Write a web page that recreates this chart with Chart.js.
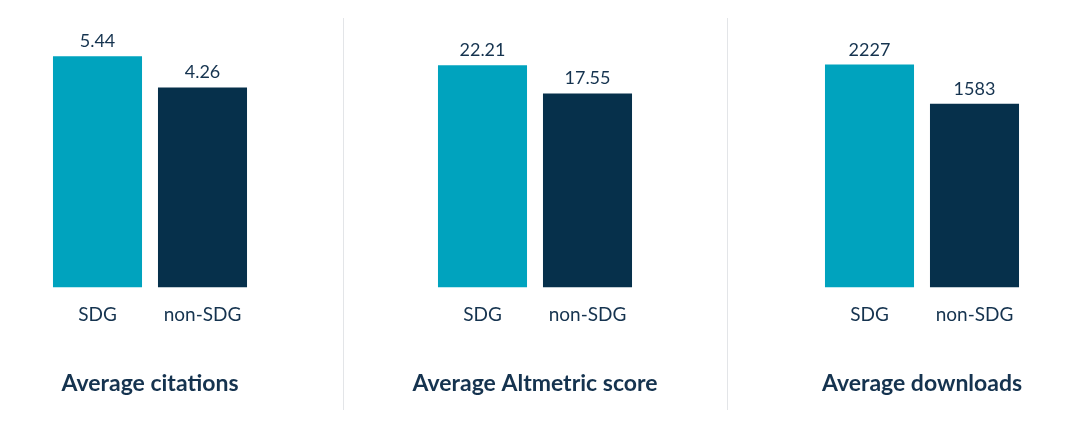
<!DOCTYPE html>
<html>
<head>
<meta charset="utf-8">
<script src="https://cdn.jsdelivr.net/npm/chart.js@4.4.1/dist/chart.umd.min.js"></script>
<style>
  html, body { margin: 0; padding: 0; background: #fff; }
  #wrap { position: relative; width: 1080px; height: 445px; overflow: hidden; }
  .panel { position: absolute; top: 0; width: 300px; height: 420px; }
  .divider { position: absolute; top: 18px; width: 1px; height: 392px; background: #e3e5e8; }
</style>
</head>
<body>
<div id="wrap">
  <div class="panel" style="left:0px"><canvas id="c1"></canvas></div>
  <div class="divider" style="left:343px"></div>
  <div class="panel" style="left:385px"><canvas id="c2"></canvas></div>
  <div class="divider" style="left:727px"></div>
  <div class="panel" style="left:772px"><canvas id="c3"></canvas></div>
</div>
<script>
const groups = ['SDG', 'non-SDG'];
const titles = ['Average citations', 'Average Altmetric score', 'Average downloads'];
const citations = [5.44, 4.26];
const altmetric = [22.21, 17.55];
const downloads = [2227, 1583];
const valueText = [['5.44', '4.26'], ['22.21', '17.55'], ['2227', '1583']];

const colors = ['#00a3be', '#06304b'];
const ink = '#15334f';
const FONT = 'Lato, "Open Sans", sans-serif';

// axis ranges per panel (the original bars do not start at zero)
const ranges = [
  { min: -3.31, max: 6.81 },
  { min: -14.59, max: 29.7 },
  { min: -1432, max: 2958 }
];

const valueLabels = {
  id: 'valueLabels',
  afterDatasetsDraw(chart, args, opts) {
    const ctx = chart.ctx;
    const meta = chart.getDatasetMeta(0);
    ctx.save();
    ctx.font = '18px ' + FONT;
    ctx.fillStyle = ink;
    ctx.textAlign = 'center';
    ctx.textBaseline = 'alphabetic';
    meta.data.forEach((bar, i) => {
      ctx.fillText(opts.texts[i], bar.x, bar.y - 9);
    });
    ctx.restore();
  }
};

// invisible side axes that just reserve 45px each side, so the title keeps full width
function sideAxis(pos, range) {
  return {
    position: pos,
    min: range.min,
    max: range.max,
    grid: { display: false, drawTicks: false },
    border: { display: false },
    ticks: { display: false },
    afterFit(scale) { scale.width = 45; }
  };
}

function makeChart(id, values, title, range, texts) {
  return new Chart(document.getElementById(id), {
    type: 'bar',
    data: {
      labels: groups,
      datasets: [{
        data: values,
        base: range.min,
        backgroundColor: colors,
        borderWidth: 0,
        categoryPercentage: 1,
        barPercentage: 0.848
      }]
    },
    options: {
      responsive: true,
      maintainAspectRatio: false,
      animation: false,
      layout: { padding: { top: 20, left: 0, right: 0, bottom: 0 } },
      plugins: {
        legend: { display: false },
        tooltip: { enabled: false },
        title: {
          display: true,
          position: 'bottom',
          text: title,
          color: ink,
          font: { family: FONT, size: 23, weight: 'bold' },
          padding: { top: 27.3, bottom: 22.7 }
        },
        valueLabels: { texts: texts }
      },
      scales: {
        x: {
          grid: { display: false, drawTicks: false },
          border: { display: false },
          ticks: { color: ink, padding: 16, font: { family: FONT, size: 19 } }
        },
        y: sideAxis('left', range),
        y2: sideAxis('right', range)
      }
    },
    plugins: [valueLabels]
  });
}

makeChart('c1', citations, titles[0], ranges[0], valueText[0]);
makeChart('c2', altmetric, titles[1], ranges[1], valueText[1]);
makeChart('c3', downloads, titles[2], ranges[2], valueText[2]);
</script>
</body>
</html>
